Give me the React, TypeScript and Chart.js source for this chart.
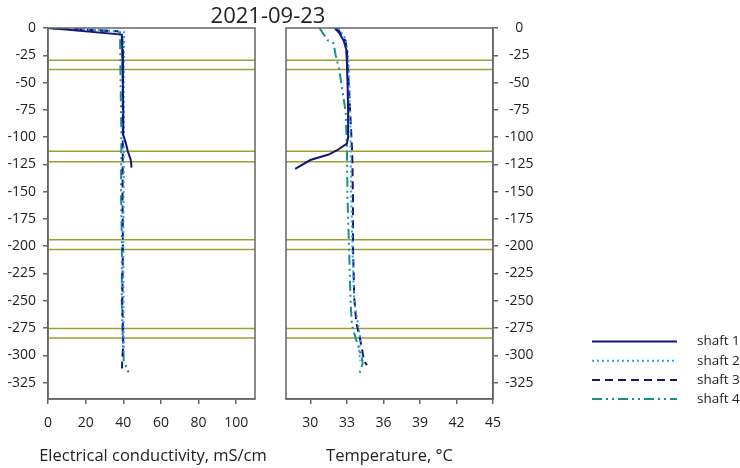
import React, { useEffect, useRef } from 'react';
import { Chart, registerables } from 'chart.js';

Chart.register(...registerables);

// ---------- data ----------
const chartTitle = '2021-09-23';
const shaftNames = ['shaft 1', 'shaft 2', 'shaft 3', 'shaft 4'];
const depthTicks = [0, -25, -50, -75, -100, -125, -150, -175, -200, -225, -250, -275, -300, -325];
const ecTicks = [0, 20, 40, 60, 80, 100];
const tempTicks = [30, 33, 36, 39, 42, 45];
const layerDepths = [-29.5, -38, -113, -122.5, -194, -203, -275.5, -284];

// Electrical conductivity (mS/cm) by depth
const shaft1EcDepth = [0, -6, -20, -50, -80, -98, -105, -113, -121, -128];
const shaft1Ec = [0.5, 39.2, 39.5, 39.8, 40.0, 40.0, 41.3, 42.4, 44.0, 44.4];
const shaft2EcDepth = [0, -2, -4, -20, -60, -100, -150, -200, -250, -300];
const shaft2Ec = [0, 30, 40.5, 40.3, 40.2, 40.3, 40.2, 40.0, 40.1, 40.3];
const shaft3EcDepth = [0, -3, -5, -30, -100, -150, -200, -250, -290, -300, -312];
const shaft3Ec = [0, 37, 39.5, 39.7, 39.8, 39.6, 39.8, 39.5, 40.0, 39.6, 39.3];
const shaft4EcDepth = [0, -3, -6, -40, -100, -150, -200, -250, -290, -305, -316];
const shaft4Ec = [0, 36, 38.3, 38.5, 39.0, 38.8, 39.3, 39.2, 39.8, 40.3, 42.9];

// Temperature (°C) by depth
const shaft1TempDepth = [0, -5, -12, -20, -30, -50, -75, -100, -106, -112, -116, -121, -129];
const shaft1Temp = [32.0, 32.4, 32.75, 32.95, 33.0, 33.05, 33.1, 33.1, 33.0, 32.2, 31.5, 30.0, 28.75];
const shaft2TempDepth = [0, -10, -25, -50, -100, -150, -200, -250, -270, -285, -295, -305];
const shaft2Temp = [32.3, 32.9, 33.1, 33.2, 33.3, 33.35, 33.45, 33.6, 33.9, 34.1, 34.0, 34.1];
const shaft3TempDepth = [0, -12, -30, -55, -83, -116, -156, -200, -246, -270, -283, -298, -305, -309];
const shaft3Temp = [32.2, 32.9, 33.05, 33.17, 33.3, 33.44, 33.5, 33.5, 33.6, 33.77, 34.05, 34.3, 34.4, 34.65];
const shaft4TempDepth = [0, -11, -14, -25, -37, -55, -77, -107, -156, -209, -249, -270, -276, -286, -301, -307, -316];
const shaft4Temp = [30.75, 31.4, 31.9, 32.08, 32.35, 32.6, 32.9, 33.0, 33.05, 33.2, 33.3, 33.4, 33.5, 33.77, 34.2, 34.3, 34.05];

// ---------- styling ----------
const FONT = '"Open Sans", "Noto Sans", sans-serif';
const frameColor = '#666666';
const textColor = '#222222';
const layerColor = '#9e9e32';
const shaftStyles = [
  { color: '#15157a', dash: [] as number[] },
  { color: '#2f9dff', dash: [2, 3] },
  { color: '#15157a', dash: [8, 5] },
  { color: '#17908c', dash: [10, 4, 2, 4, 2, 4] },
];

const zip = (xs: number[], ys: number[]) => xs.map((x, i) => ({ x, y: ys[i] }));

const makeDatasets = (pairs: { v: number[]; d: number[] }[]) =>
  pairs.map((p, i) => ({
    label: shaftNames[i],
    data: zip(p.v, p.d),
    showLine: true,
    borderColor: shaftStyles[i].color,
    backgroundColor: shaftStyles[i].color,
    borderDash: shaftStyles[i].dash,
    borderWidth: 2,
    pointRadius: 0,
    tension: 0,
  }));

const framePlugin = {
  id: 'frameAndLayers',
  beforeDatasetsDraw(chart: any) {
    const { ctx, chartArea, scales } = chart;
    const y = scales.y;
    ctx.save();
    ctx.strokeStyle = layerColor;
    ctx.lineWidth = 1.5;
    layerDepths.forEach((d) => {
      const py = y.getPixelForValue(d);
      ctx.beginPath();
      ctx.moveTo(chartArea.left, py);
      ctx.lineTo(chartArea.right, py);
      ctx.stroke();
    });
    ctx.restore();
  },
  afterDraw(chart: any) {
    const { ctx, chartArea } = chart;
    ctx.save();
    ctx.strokeStyle = frameColor;
    ctx.lineWidth = 1.5;
    ctx.strokeRect(chartArea.left, chartArea.top, chartArea.right - chartArea.left, chartArea.bottom - chartArea.top);
    ctx.restore();
  },
};

const axisTitlePlugin = {
  id: 'axisTitleText',
  afterDraw(chart: any, _args: any, opts: any) {
    const { ctx, chartArea } = chart;
    ctx.save();
    ctx.fillStyle = textColor;
    ctx.font = `${opts.size}px ${FONT}`;
    ctx.textAlign = 'center';
    ctx.textBaseline = 'middle';
    const cx = (chartArea.left + chartArea.right) / 2 + (opts.dx || 0);
    ctx.fillText(opts.text, cx, opts.y);
    if (opts.title) {
      ctx.font = `${opts.titleSize}px ${FONT}`;
      ctx.fillText(opts.title, opts.titleX, opts.titleY);
    }
    ctx.restore();
  },
};

const legendPlugin = {
  id: 'shaftLegend',
  afterDraw(chart: any) {
    const { ctx } = chart;
    chart.data.datasets.forEach((ds: any, i: number) => {
      const y = 341.5 + i * 19.2;
      ctx.save();
      ctx.strokeStyle = ds.borderColor;
      ctx.lineWidth = ds.borderWidth;
      ctx.setLineDash(ds.borderDash || []);
      ctx.beginPath();
      ctx.moveTo(592, y);
      ctx.lineTo(677, y);
      ctx.stroke();
      ctx.setLineDash([]);
      ctx.fillStyle = textColor;
      ctx.font = `13.5px ${FONT}`;
      ctx.textAlign = 'left';
      ctx.textBaseline = 'middle';
      ctx.fillText(ds.label, 697, y);
      ctx.restore();
    });
  },
};

const tickFont = { family: FONT, size: 14 };

function baseScales(xMin: number, xMax: number, xTicks: number[], yPos: 'left' | 'right') {
  return {
    x: {
      type: 'linear',
      position: 'bottom',
      min: xMin,
      max: xMax,
      afterBuildTicks: (s: any) => {
        s.ticks = xTicks.map((v) => ({ value: v }));
      },
      afterFit: (s: any) => {
        s.height = 69;
      },
      grid: { drawOnChartArea: false, drawTicks: true, tickLength: 5, color: frameColor, lineWidth: 1.5 },
      border: { display: true, color: frameColor, width: 1.5 },
      ticks: { font: tickFont, color: textColor, padding: 11, maxRotation: 0, autoSkip: false },
    },
    y: {
      type: 'linear',
      position: yPos,
      min: -340,
      max: 0,
      afterBuildTicks: (s: any) => {
        s.ticks = depthTicks.map((v) => ({ value: v }));
      },
      afterFit: (s: any) => {
        s.width = yPos === 'left' ? 48 : 50;
      },
      grid: { drawOnChartArea: false, drawTicks: true, tickLength: 5, color: frameColor, lineWidth: 1.5 },
      border: { display: true, color: frameColor, width: 1.5 },
      ticks: {
        font: tickFont,
        color: textColor,
        padding: 7,
        autoSkip: false,
        crossAlign: yPos === 'left' ? 'near' : 'center',
      },
    },
  };
}

export default function App() {
  const leftRef = useRef<HTMLCanvasElement>(null);
  const rightRef = useRef<HTMLCanvasElement>(null);

  useEffect(() => {
    document.body.style.margin = '0';
    Chart.defaults.font.family = FONT;

    const ecChart = new Chart(leftRef.current as HTMLCanvasElement, {
      type: 'scatter',
      data: {
        datasets: makeDatasets([
          { v: shaft1Ec, d: shaft1EcDepth },
          { v: shaft2Ec, d: shaft2EcDepth },
          { v: shaft3Ec, d: shaft3EcDepth },
          { v: shaft4Ec, d: shaft4EcDepth },
        ]) as any,
      },
      options: {
        responsive: false,
        animation: false,
        devicePixelRatio: 1,
        layout: { padding: { top: 28, left: 0, right: 485, bottom: 0 } },
        plugins: {
          legend: { display: false },
          tooltip: { enabled: false },
          axisTitleText: {
            text: 'Electrical conductivity, mS/cm',
            size: 16.5,
            y: 456,
            dx: 1.5,
            title: chartTitle,
            titleSize: 22,
            titleX: 268,
            titleY: 16.5,
          },
        } as any,
        scales: baseScales(0, 110, ecTicks, 'left') as any,
      },
      plugins: [framePlugin, axisTitlePlugin],
    });

    const tempChart = new Chart(rightRef.current as HTMLCanvasElement, {
      type: 'scatter',
      data: {
        datasets: makeDatasets([
          { v: shaft1Temp, d: shaft1TempDepth },
          { v: shaft2Temp, d: shaft2TempDepth },
          { v: shaft3Temp, d: shaft3TempDepth },
          { v: shaft4Temp, d: shaft4TempDepth },
        ]) as any,
      },
      options: {
        responsive: false,
        animation: false,
        devicePixelRatio: 1,
        layout: { padding: { top: 28, left: 286, right: 740 - 493 - 50, bottom: 0 } },
        plugins: {
          legend: { display: false },
          tooltip: { enabled: false },
          axisTitleText: { text: 'Temperature, °C', size: 16.5, y: 456, dx: 0 },
        } as any,
        scales: baseScales(28, 45, tempTicks, 'right') as any,
      },
      plugins: [framePlugin, axisTitlePlugin, legendPlugin],
    });

    return () => {
      ecChart.destroy();
      tempChart.destroy();
    };
  }, []);

  return (
    <div style={{ position: 'relative', width: 740, height: 468, background: '#ffffff' }}>
      <canvas ref={leftRef} width={740} height={468} style={{ position: 'absolute', left: 0, top: 0 }} />
      <canvas ref={rightRef} width={740} height={468} style={{ position: 'absolute', left: 0, top: 0 }} />
    </div>
  );
}
